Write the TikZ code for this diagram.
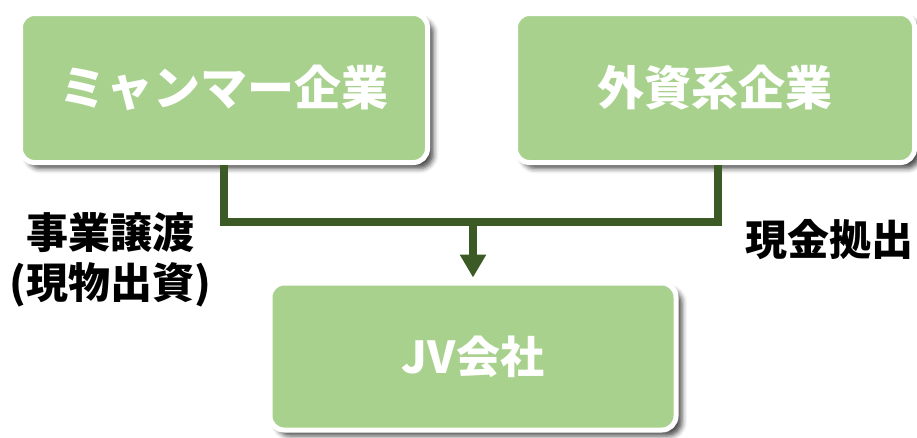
\documentclass[tikz,border=0pt]{standalone}
\usepackage{fontspec}
\setmainfont{Noto Sans CJK JP}
\usetikzlibrary{arrows.meta,shadows.blur}
\definecolor{boxgreen}{HTML}{A9D18E}
\definecolor{conngreen}{HTML}{3B5A25}
\tikzset{
  box/.style={draw=white, line width=5pt, fill=boxgreen, rounded corners=14pt,
    blur shadow={shadow xshift=6pt, shadow yshift=-6pt, shadow blur radius=5pt, shadow opacity=70},
    text=white, font=\fontsize{47}{50}\selectfont\bfseries, inner sep=0pt},
  conn/.style={draw=conngreen, line width=8pt, line join=miter},
  lbl/.style={text=black, font=\fontsize{42}{50}\selectfont\bfseries, inner sep=0pt, align=center}
}
\begin{document}
\begin{tikzpicture}[x=1pt,y=-1pt]
\useasboundingbox (0,0) rectangle (917,437);
\node[box, minimum width=407pt, minimum height=149pt] (lb) at (224,88) {ミャンマー企業};
\node[box, minimum width=399pt, minimum height=149pt] (rb) at (715,88) {外資系企業};
\node[box, minimum width=406pt, minimum height=147pt, font=\fontsize{44}{48}\selectfont\bfseries] (jv) at (473,356.5) {JV会社};
\node[lbl] (l1) at (110,260) {事業譲渡\\(現物出資)};
\node[lbl] (l2) at (829,240) {現金拠出};
\coordinate (j) at (473,222);
\coordinate (rx) at ([xshift=3pt]rb.south);
\draw[conn] (lb.south) -- (lb.south |- j) -- (rx |- j) -- (rx);
\draw[conn, -{Triangle[width=25pt,length=23pt]}] (j) -- ([yshift=3pt]jv.north);
\end{tikzpicture}
\end{document}
